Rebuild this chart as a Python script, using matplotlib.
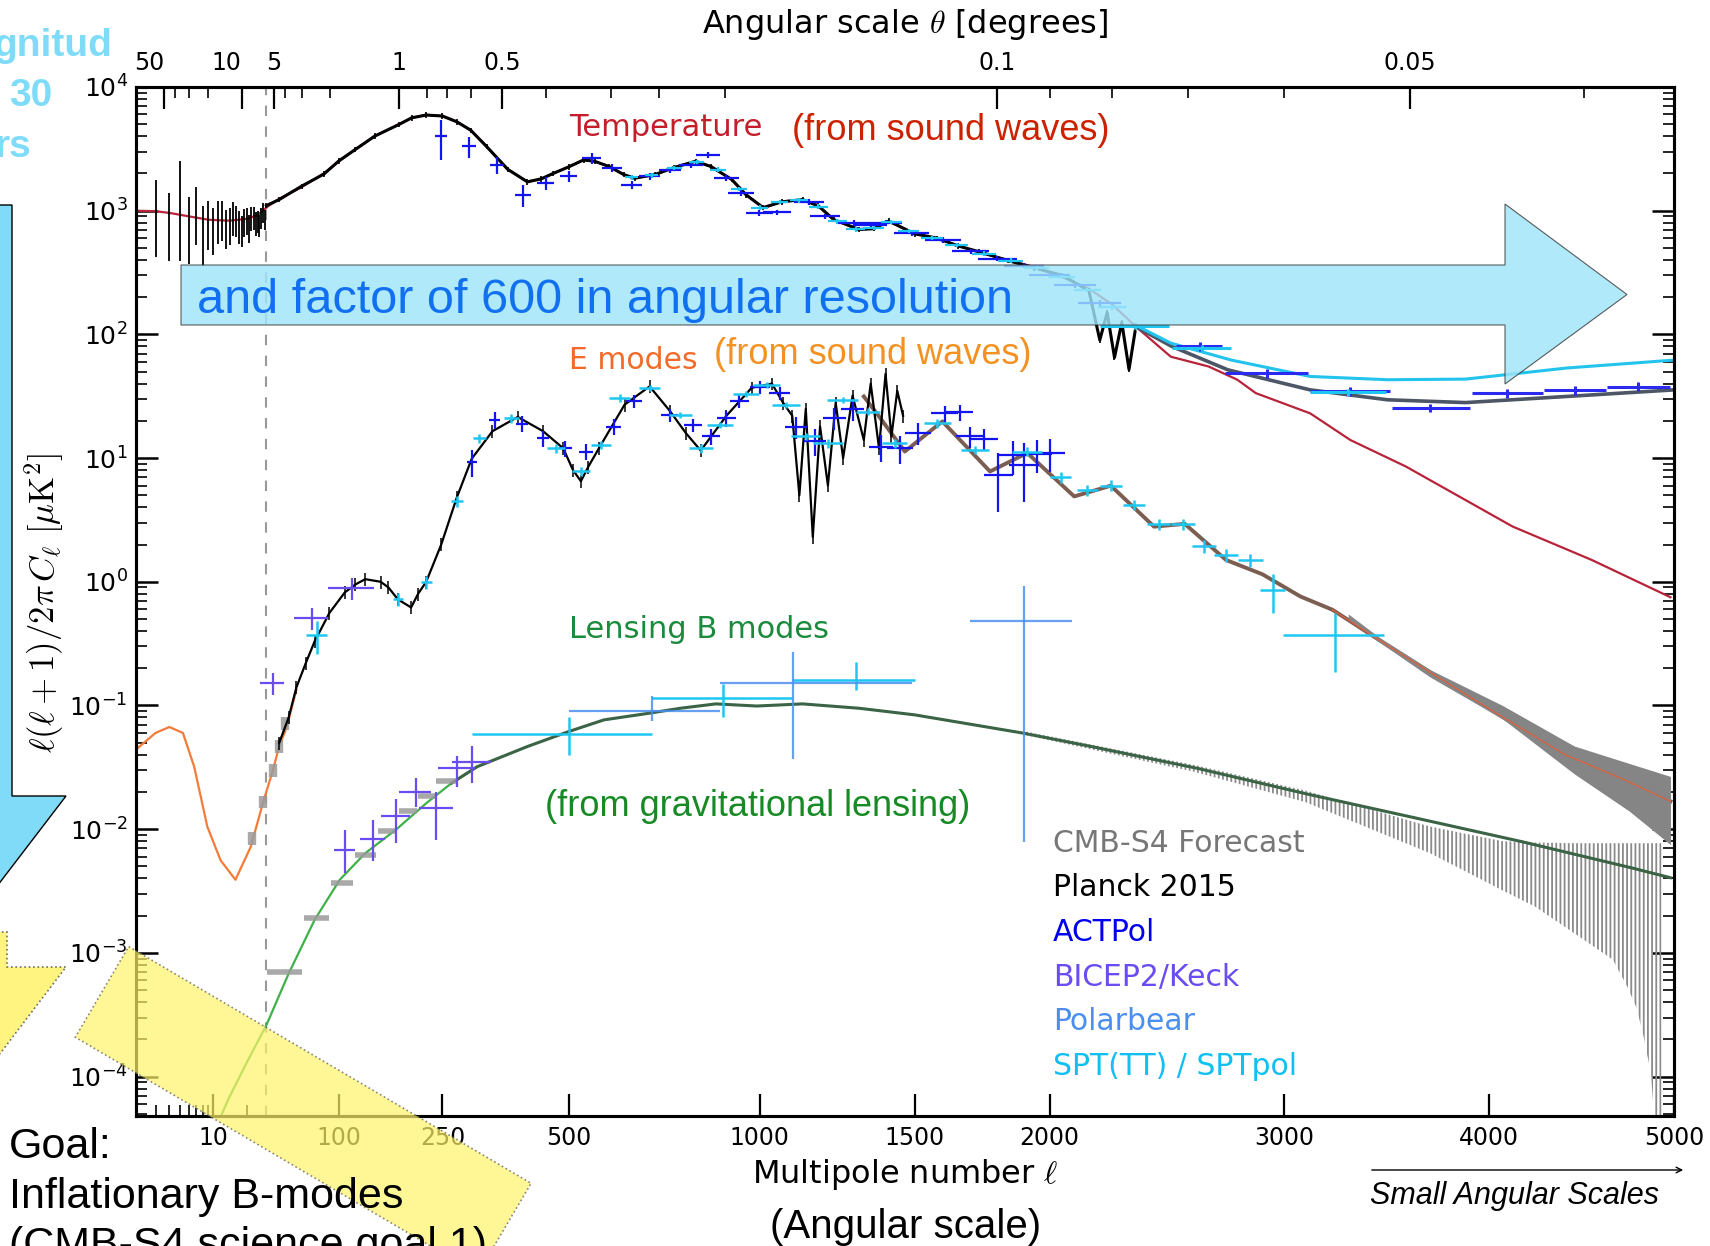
import numpy as np
import matplotlib
matplotlib.use('Agg')
import matplotlib.pyplot as plt
from matplotlib.patches import Polygon, FancyArrowPatch
from matplotlib.ticker import NullFormatter

# ---------------- data ----------------
# TT theory (lensed LCDM)
tt_ell = [2, 3, 4, 6, 9, 14, 20, 25, 31, 40, 60, 83, 100, 120, 146, 180, 200, 223, 250, 275,
          300, 330, 371, 411, 440, 466, 500, 534, 560, 595, 630, 657, 709, 760, 817, 860, 918, 960, 1010, 1067,
          1130, 1180, 1228, 1311, 1360, 1411, 1500, 1580, 1653, 1733, 1840, 1940, 2050, 2156, 2250, 2350, 2496, 2660, 2787, 2870,
          3120, 3310, 3580, 4122, 4545, 4980]
tt_val = [1000, 990, 960, 900, 845, 830, 860, 920, 1080, 1250, 1550, 2010, 2500, 3150, 3990, 5000, 5600, 5970, 5800, 5270,
          4450, 3310, 2140, 1720, 1800, 2010, 2250, 2580, 2500, 2280, 1950, 1835, 1950, 2250, 2505, 2280, 1780, 1350, 1050, 1188,
          1225, 1100, 845, 701, 720, 818, 659, 590, 527, 457, 400, 351, 290, 234, 175, 115, 66, 55, 43, 33.5,
          23, 14, 8.55, 2.8, 1.5, 0.75]

# TT total incl. foregrounds (ACT-like grey, SPT-like cyan)
tt_act_fg_ell = [2350, 2500, 2745, 3120, 3490, 3880, 4410, 5000]
tt_act_fg_val = [115, 80, 51.7, 35.6, 29.6, 28.1, 31.5, 35.6]
tt_spt_fg_ell = [2350, 2496, 2760, 3120, 3490, 3880, 4410, 5000]
tt_spt_fg_val = [118, 85, 62, 45.7, 43, 43.5, 53.5, 62]

# Planck 2015 TT, low ell
planck_lowl_ell = [3, 4, 5, 6, 7, 8, 9, 10, 11, 12, 13, 14, 15, 16, 17, 18, 19, 20, 21, 22, 23, 24, 25, 26, 27, 28, 29]
planck_lowl_val = [870, 740, 1000, 700, 950, 640, 780, 700, 820, 840, 720, 760, 880, 830, 740, 690, 800, 830, 720, 860,
                   880, 790, 820, 760, 870, 970, 850]
planck_lowl_elo = [450, 350, 610, 330, 420, 280, 300, 260, 280, 270, 230, 230, 250, 220, 200, 180, 190, 190, 170, 180,
                   180, 160, 160, 150, 160, 170, 150]
planck_lowl_ehi = [900, 650, 1530, 600, 600, 450, 420, 360, 380, 350, 300, 290, 300, 270, 250, 220, 230, 220, 200, 210,
                   200, 180, 180, 170, 175, 185, 165]

# Planck 2015 TT, high ell
planck_tt_ell = [30, 40, 60, 83, 100, 120, 146, 180, 200, 223, 250, 275, 300, 330, 371, 411, 440, 466, 500, 534,
                 560, 595, 630, 657, 709, 760, 817, 860, 918, 960, 1010, 1067, 1130, 1180, 1228, 1311, 1360, 1411, 1500, 1580,
                 1653, 1733, 1840, 1940, 2050, 2156, 2200, 2230, 2260, 2290, 2320, 2345]
planck_tt_val = [1100, 1230, 1580, 1980, 2530, 3120, 4020, 4960, 5640, 5930, 5830, 5230, 4480, 3290, 2160, 1710, 1810, 2000, 2260, 2570,
                 2510, 2270, 1960, 1830, 1960, 2240, 2510, 2270, 1790, 1340, 1060, 1180, 1230, 1090, 850, 705, 715, 825, 650, 600,
                 520, 465, 395, 345, 300, 225, 90, 150, 65, 125, 52, 105]

# ACTPol TT
act_tt_ell = [248, 297, 350, 402, 450, 500, 553, 601, 650, 695, 748, 804, 852, 903, 946, 999, 1052, 1150, 1200, 1295,
              1350, 1400, 1490, 1600, 1700, 1800, 1900, 2000, 2100, 2200]
act_tt_val = [3990, 3310, 2350, 1350, 1670, 1890, 2660, 2220, 1620, 1890, 2140, 2350, 2830, 1840, 1390, 960, 970, 1180, 900, 795,
              760, 800, 660, 580, 470, 410, 360, 300, 250, 180]
act_tt_relerr = [0.35, 0.2, 0.15, 0.2, 0.12, 0.1, 0.1, 0.08, 0.08, 0.06, 0.06, 0.06, 0.06, 0.05, 0.05, 0.05, 0.05, 0.05, 0.05, 0.05,
                 0.05, 0.05, 0.05, 0.05, 0.05, 0.05, 0.05, 0.05, 0.05, 0.05]
act_tt_hi_ell = [2620, 2920, 3310, 3700, 4095, 4455, 4800]
act_tt_hi_val = [80, 48.6, 34.6, 25.4, 33.5, 35.3, 37.9]
act_tt_hi_lo = [2518, 2730, 3120, 3510, 3910, 4290, 4630]
act_tt_hi_hi = [2720, 3110, 3500, 3900, 4280, 4620, 4980]

# SPT TT
spt_tt_ell = [650, 700, 760, 820, 880, 940, 1000, 1060, 1120, 1180, 1240, 1300, 1360, 1420, 1480, 1560, 1650, 1750, 1850, 1950,
              2050, 2150, 2250]
spt_tt_val = [1860, 1930, 2230, 2480, 2150, 1500, 1060, 1170, 1210, 1080, 820, 705, 725, 810, 690, 600, 530, 450, 395, 345,
              290, 230, 165]
spt_tt_hi_ell = [2345, 2630, 3300]
spt_tt_hi_val = [118, 78, 34]
spt_tt_hi_lo = [2200, 2500, 3120]
spt_tt_hi_hi = [2490, 2760, 3480]

# EE theory
ee_ell = [2, 3, 4, 5.3, 6.7, 8.8, 11.6, 15.8, 21.7, 28.5, 35, 40, 45, 48, 55, 73, 89, 107, 133, 154,
          179, 199, 223, 248, 275, 302, 341, 391, 444, 488, 528, 570, 632, 695, 748, 831, 903, 976, 1036, 1098,
          1162, 1259, 1327, 1378, 1466, 1598, 1772, 1913, 2097, 2245, 2425, 2556, 2737, 2900, 3075, 3225, 3447, 3709, 4010, 4400,
          4700, 4980]
ee_val = [0.044, 0.060, 0.067, 0.060, 0.032, 0.0105, 0.0056, 0.0039, 0.0072, 0.0173, 0.030, 0.047, 0.062, 0.0765, 0.134, 0.34, 0.557, 0.81, 1.04, 1.04,
          0.76, 0.71, 0.975, 2.05, 4.9, 9.7, 16.9, 21, 16.9, 11.7, 7.1, 11.7, 27.9, 37.8, 24.6, 11, 21.7, 37.8, 39, 20.4,
          13.2, 26.1, 31.5, 21.7, 11.3, 19.8, 7.8, 11, 4.9, 5.98, 2.79, 2.94, 1.50, 1.15, 0.76, 0.594, 0.34, 0.182, 0.092, 0.040,
          0.026, 0.0168]

# Planck EE
planck_ee_ell = [40, 48, 55, 64, 73, 89, 107, 120, 133, 154, 165, 179, 199, 210, 223, 248, 275, 302, 341, 391,
                 444, 488, 510, 528, 545, 570, 632, 695, 748, 790, 831, 903, 976, 1036, 1070, 1098, 1120, 1140, 1162, 1185,
                 1210, 1235, 1259, 1290, 1327, 1350, 1378, 1400, 1420, 1440, 1460]
planck_ee_val = [0.05, 0.08, 0.14, 0.22, 0.33, 0.56, 0.82, 0.95, 1.05, 1.0, 0.9, 0.72, 0.62, 0.8, 1.0, 2.0, 4.8, 9.9, 16.5, 21.5,
                 16.5, 12, 8, 6.5, 8.5, 12, 27, 38, 24, 16, 11.5, 22, 37, 40, 28, 22, 5, 25, 2.3, 18,
                 6, 28, 10, 32, 14, 40, 12, 48, 15, 35, 22]

# ACTPol EE
act_ee_ell = [302, 345, 400, 444, 493, 540, 605, 655, 748, 810, 860, 903, 940, 1000, 1060, 1110, 1170, 1230, 1290, 1385,
              1450, 1512, 1606, 1660, 1698, 1750, 1803, 1860, 1900, 1950, 2000]
act_ee_val = [9.3, 20.4, 19, 14.5, 12, 11.3, 18, 28.9, 22.4, 18.6, 15, 21, 28.9, 37.8, 33.4, 18, 13.8, 21, 25, 12.4,
              12, 15.9, 23, 23.5, 15, 14.3, 7.3, 10.5, 8.8, 10.8, 11]
act_ee_relerr = [0.25, 0.15, 0.15, 0.15, 0.15, 0.15, 0.15, 0.12, 0.12, 0.12, 0.15, 0.15, 0.12, 0.12, 0.12, 0.2, 0.25, 0.2, 0.2, 0.25,
                 0.25, 0.2, 0.15, 0.15, 0.2, 0.2, 0.5, 0.3, 0.5, 0.3, 0.3]

# SPTpol EE
spt_ee_ell = [75, 179, 223, 275, 316, 378, 472, 528, 575, 620, 695, 776, 831, 885, 960, 1020, 1080, 1140, 1210, 1259,
              1340, 1431, 1580, 1715, 1913, 2044, 2150, 2245, 2340, 2445, 2550, 2640, 2737, 2846, 2946, 3235]
spt_ee_val = [0.37, 0.72, 1.0, 4.46, 14.5, 21, 12, 7.8, 12.8, 30.6, 37, 22.4, 12, 18.6, 33, 39, 27, 15, 13.2, 29.6,
              23.8, 13.2, 19.1, 11.7, 11.3, 7.0, 5.5, 6.0, 4.2, 2.94, 2.94, 1.93, 1.65, 1.50, 0.86, 0.373]
spt_ee_relerr = [0.3, 0.12, 0.12, 0.1, 0.08, 0.08, 0.08, 0.08, 0.08, 0.08, 0.06, 0.06, 0.08, 0.06, 0.06, 0.06, 0.06, 0.06, 0.08, 0.06,
                 0.06, 0.08, 0.08, 0.08, 0.08, 0.1, 0.1, 0.1, 0.1, 0.1, 0.1, 0.12, 0.12, 0.12, 0.35, 0.5]
spt_ee_xfrac = [0.15, 0.04, 0.04, 0.04, 0.04, 0.04, 0.04, 0.04, 0.04, 0.04, 0.04, 0.04, 0.04, 0.04, 0.04, 0.04, 0.04, 0.04, 0.04, 0.04,
                0.03, 0.03, 0.03, 0.03, 0.03, 0.02, 0.02, 0.02, 0.02, 0.02, 0.02, 0.02, 0.02, 0.02, 0.02, 0.074]

# BICEP2/Keck EE
bk_ee_ell = [35, 70, 116]
bk_ee_val = [0.152, 0.51, 0.89]

# CMB-S4 forecast, low-ell EE and BB
s4_ee_ell = [22.4, 28.2, 35, 40, 45]
s4_ee_val = [0.0085, 0.0167, 0.030, 0.0466, 0.072]
s4_bb_ell = [42, 75, 104, 134, 164, 194, 225, 257]
s4_bb_val = [7.0e-4, 1.9e-3, 3.66e-3, 6.2e-3, 9.6e-3, 0.0139, 0.0184, 0.0243]
s4_bb_lo = [30.5, 62, 91, 120, 150, 180, 210, 240]
s4_bb_hi = [60, 88, 117, 148, 178, 208, 240, 275]

# CMB-S4 forecast bands at high ell
ee_band_ell = [3300, 3450, 3700, 4070, 4450, 4750, 4980]
ee_band_lo = [0.50, 0.325, 0.17, 0.078, 0.028, 0.014, 0.0075]
ee_band_hi = [0.55, 0.355, 0.195, 0.10, 0.047, 0.034, 0.0267]
bb_band_ell = [1900, 2600, 3100, 3700, 4070, 4240, 4450, 4660, 4740, 4790, 4830, 4870, 4900, 4930]
bb_band_lo = [0.058, 0.029, 0.0165, 0.0064, 0.0032, 0.00237, 0.00144, 8.8e-4, 5.3e-4, 3.6e-4, 2.1e-4, 1.07e-4, 3e-5, 3e-5]
bb_band_hi = [0.062, 0.033, 0.0205, 0.0105, 0.0080, 0.0078, 0.0077, 0.0077, 0.0077, 0.0077, 0.0077, 0.0077, 0.0077, 0.0077]

# BB lensing theory
bb_ell = [10, 14, 20, 30, 48, 73, 101, 133, 176, 223, 266, 312, 411, 500, 582, 695, 776, 873, 991, 1130,
          1311, 1500, 1893, 2156, 2612, 3102, 3620, 4175, 4767, 4980]
bb_val = [3.5e-5, 6.9e-5, 1.3e-4, 2.6e-4, 6.8e-4, 1.85e-3, 3.9e-3, 6.4e-3, 9.9e-3, 0.0162, 0.0236, 0.032, 0.0466, 0.0615, 0.0765, 0.0867, 0.095, 0.103, 0.099, 0.103,
          0.095, 0.084, 0.060, 0.047, 0.031, 0.0193, 0.0124, 0.0079, 0.00485, 0.00405]

# BB data
bk_bb_ell = [107, 143, 176, 206, 240, 275, 302]
bk_bb_val = [6.8e-3, 8.4e-3, 0.0127, 0.0201, 0.0148, 0.031, 0.035]
bk_bb_ylo = [4.4e-3, 5.5e-3, 7.8e-3, 0.0152, 0.0081, 0.0218, 0.0236]
bk_bb_yhi = [9.9e-3, 0.0118, 0.0174, 0.026, 0.020, 0.0391, 0.047]
pb_bb_ell = [700, 1100, 1900]
pb_bb_val = [0.091, 0.152, 0.48]
pb_bb_xlo = [500, 886, 1698]
pb_bb_xhi = [886, 1490, 2090]
pb_bb_ylo = [0.075, 0.037, 0.0079]
pb_bb_yhi = [0.12, 0.27, 0.93]
sptpol_bb_ell = [500, 893, 1300]
sptpol_bb_val = [0.059, 0.1145, 0.16]
sptpol_bb_xlo = [302, 700, 1098]
sptpol_bb_xhi = [700, 1098, 1500]
sptpol_bb_ylo = [0.04, 0.080, 0.133]
sptpol_bb_yhi = [0.08, 0.148, 0.225]

# axis ticks
ell_ticks = [10, 100, 250, 500, 1000, 1500, 2000, 3000, 4000, 5000]
ell_minor = [2, 3, 4, 5, 6, 7, 8, 9, 20]
theta_major = [50, 10, 5, 1, 0.5, 0.1, 0.05]
theta_minor = [40, 30, 20, 4, 3, 2, 0.8, 0.7, 0.6, 0.4, 0.3, 0.25, 0.2, 0.09, 0.08, 0.07, 0.06, 0.04]

legend_names = ['CMB-S4 Forecast', 'Planck 2015', 'ACTPol', 'BICEP2/Keck', 'Polarbear', 'SPT(TT) / SPTpol']
legend_colors = ['#777777', 'black', '#0000ee', '#6a4cf0', '#4a8ff0', '#10c0f0']

# ---------------- scale: log below ell=30, ell^0.6 above ----------------
C30 = 8.2 * 30 ** 0.6


def fwd(l):
    l = np.asarray(l, dtype=float)
    with np.errstate(all='ignore'):
        lc = np.where(l > 0, l, 1e-6)
        return np.where(lc >= 30, 8.2 * lc ** 0.6, C30 - 102 * np.log10(30 / lc))


def inv(u):
    u = np.asarray(u, dtype=float)
    with np.errstate(all='ignore'):
        return np.where(u >= C30, (np.maximum(u, 0) / 8.2) ** (1 / 0.6), 30 * 10 ** ((u - C30) / 102))


plt.rcParams['hatch.linewidth'] = 1.3

W, H = 1710, 1246
fig = plt.figure(figsize=(W / 100, H / 100), dpi=100)
ax = fig.add_axes([136 / W, 1 - 1116 / H, (1674 - 136) / W, (1116 - 87) / H])
ax.set_xscale('function', functions=(fwd, inv))
ax.set_yscale('log')
ax.set_xlim(2.05, 5000)
ax.set_ylim(4.8e-5, 1e4)


def P(x, y):
    return (x / W, 1 - y / H)


A = np.asarray
ax.axvline(30, color='#999999', ls=(0, (5, 5)), lw=1.5, zorder=1)

# theory curves
ax.plot(tt_ell, tt_val, color='#b8233a', lw=1.6, zorder=2)
ax.plot(tt_act_fg_ell, tt_act_fg_val, color='#4d5666', lw=2.6, zorder=2)
ax.plot(tt_spt_fg_ell, tt_spt_fg_val, color='#22c4ee', lw=2.2, zorder=2)

ee_e, ee_v = A(ee_ell), A(ee_val)
m_hi = ee_e >= 1300
ax.plot(ee_e[m_hi], ee_v[m_hi], color='#7c5d52', lw=2.8, zorder=2)
ax.fill_between(ee_band_ell, ee_band_lo, ee_band_hi, color='#858585', lw=0, zorder=2.5)
m_lo = ee_e <= 60
ax.plot(ee_e[m_lo], ee_v[m_lo], color='#f47b3a', lw=1.6, zorder=3)
m_top = ee_e >= 3200
ax.plot(ee_e[m_top], ee_v[m_top], color='#e0603a', lw=0.9, zorder=3)

bb_e, bb_v = A(bb_ell), A(bb_val)
ax.fill_between(bb_band_ell, bb_band_lo, bb_band_hi, facecolor='none', edgecolor='#8a8a8a',
                hatch='||||', lw=0, zorder=2)
ax.plot(bb_e[bb_e <= 312], bb_v[bb_e <= 312], color='#3fb04a', lw=1.6, zorder=3)
ax.plot(bb_e[bb_e >= 266], bb_v[bb_e >= 266], color='#3a6445', lw=2.2, zorder=3)

# CMB-S4 low-ell forecast
ax.errorbar(s4_ee_ell, s4_ee_val, yerr=0.12 * A(s4_ee_val), fmt='none', ecolor='#9a9a9a',
            elinewidth=6, alpha=0.85, zorder=3)
ax.errorbar(s4_bb_ell, s4_bb_val, xerr=[A(s4_bb_ell) - A(s4_bb_lo), A(s4_bb_hi) - A(s4_bb_ell)],
            fmt='none', ecolor='#9a9a9a', elinewidth=4, alpha=0.85, zorder=3)

# Planck
ax.errorbar(planck_lowl_ell, planck_lowl_val, yerr=[planck_lowl_elo, planck_lowl_ehi], fmt='none',
            ecolor='black', elinewidth=1.3, zorder=4)
ax.errorbar(planck_tt_ell, planck_tt_val, yerr=0.05 * A(planck_tt_val), color='black', lw=2.2,
            elinewidth=1.2, capsize=0, zorder=4)
ax.errorbar(planck_ee_ell, planck_ee_val, yerr=0.12 * A(planck_ee_val), color='black', lw=1.6,
            elinewidth=1.1, capsize=0, zorder=4)

# ACTPol
ax.errorbar(act_tt_ell, act_tt_val, xerr=0.04 * A(act_tt_ell), yerr=A(act_tt_relerr) * A(act_tt_val),
            fmt='none', ecolor='#1414f0', elinewidth=1.6, zorder=5)
ax.errorbar(act_tt_hi_ell, act_tt_hi_val,
            xerr=[A(act_tt_hi_ell) - A(act_tt_hi_lo), A(act_tt_hi_hi) - A(act_tt_hi_ell)],
            yerr=0.08 * A(act_tt_hi_val), fmt='none', ecolor='#2a2af0', elinewidth=2.2, zorder=5)
ax.errorbar(act_ee_ell, act_ee_val, xerr=0.03 * A(act_ee_ell), yerr=A(act_ee_relerr) * A(act_ee_val),
            fmt='none', ecolor='#1414f0', elinewidth=1.6, zorder=5)

# SPT
ax.errorbar(spt_tt_ell, spt_tt_val, xerr=0.025 * A(spt_tt_ell), yerr=0.04 * A(spt_tt_val),
            fmt='none', ecolor='#1ec6f2', elinewidth=1.6, zorder=5)
ax.errorbar(spt_tt_hi_ell, spt_tt_hi_val,
            xerr=[A(spt_tt_hi_ell) - A(spt_tt_hi_lo), A(spt_tt_hi_hi) - A(spt_tt_hi_ell)],
            yerr=0.06 * A(spt_tt_hi_val), fmt='none', ecolor='#1ec6f2', elinewidth=2.2, zorder=5)
ax.errorbar(spt_ee_ell, spt_ee_val, xerr=A(spt_ee_xfrac) * A(spt_ee_ell), yerr=A(spt_ee_relerr) * A(spt_ee_val),
            fmt='none', ecolor='#1ec6f2', elinewidth=1.8, zorder=5)
ax.errorbar(sptpol_bb_ell, sptpol_bb_val,
            xerr=[A(sptpol_bb_ell) - A(sptpol_bb_xlo), A(sptpol_bb_xhi) - A(sptpol_bb_ell)],
            yerr=[A(sptpol_bb_val) - A(sptpol_bb_ylo), A(sptpol_bb_yhi) - A(sptpol_bb_val)],
            fmt='none', ecolor='#1ec6f2', elinewidth=1.8, zorder=5)

# BICEP2/Keck
ax.errorbar(bk_ee_ell, bk_ee_val, xerr=0.25 * A(bk_ee_ell), yerr=0.2 * A(bk_ee_val),
            fmt='none', ecolor='#6a4cf0', elinewidth=1.6, zorder=5)
ax.errorbar(bk_bb_ell, bk_bb_val, xerr=0.12 * A(bk_bb_ell),
            yerr=[A(bk_bb_val) - A(bk_bb_ylo), A(bk_bb_yhi) - A(bk_bb_val)],
            fmt='none', ecolor='#6a4cf0', elinewidth=1.6, zorder=5)

# Polarbear
ax.errorbar(pb_bb_ell, pb_bb_val,
            xerr=[A(pb_bb_ell) - A(pb_bb_xlo), A(pb_bb_xhi) - A(pb_bb_ell)],
            yerr=[A(pb_bb_val) - A(pb_bb_ylo), A(pb_bb_yhi) - A(pb_bb_val)],
            fmt='none', ecolor='#4a8ff0', elinewidth=1.6, alpha=0.85, zorder=5)

# ---------------- axes cosmetics ----------------
for s in ax.spines.values():
    s.set_linewidth(2.2)
ax.set_xticks(ell_ticks, labels=[str(t) for t in ell_ticks])
ax.set_xticks(ell_minor, minor=True)
ax.set_yticks([10.0 ** k for k in range(-4, 5)], labels=['$10^{%d}$' % k for k in range(-4, 5)])
ax.yaxis.set_minor_formatter(NullFormatter())
ax.tick_params(axis='both', which='both', direction='in', top=False, right=True)
ax.tick_params(axis='x', which='major', length=16, width=1.6, labelsize=17, pad=7)
ax.tick_params(axis='x', which='minor', length=8, width=1.2)
ax.tick_params(axis='y', which='major', length=16, width=1.8, labelsize=18, pad=6)
ax.tick_params(axis='y', which='minor', length=8, width=1.2)

ax2 = ax.twiny()
ax2.set_xscale('function', functions=(fwd, inv))
ax2.set_xlim(ax.get_xlim())
ax2.set_xticks([180.0 / t for t in theta_major], labels=[('%g' % t) for t in theta_major])
ax2.set_xticks([180.0 / t for t in theta_minor], minor=True)
ax2.tick_params(axis='x', which='major', direction='in', length=16, width=1.6, labelsize=17, pad=9)
ax2.tick_params(axis='x', which='minor', direction='in', length=8, width=1.2)
for lab in ax2.get_xticklabels()[:2]:
    lab.set_horizontalalignment('right')
for s in ax2.spines.values():
    s.set_linewidth(2.2)

# ---------------- labels inside / around the plot ----------------
fig.text(*P(905, 24), r'Angular scale $\theta$ [degrees]', ha='center', va='center', fontsize=23,
         math_fontfamily='cm')
fig.text(*P(905, 1175), r'Multipole number $\ell$', ha='center', va='center', fontsize=23,
         math_fontfamily='cm')
fig.text(*P(44, 603), r'$\ell(\ell+1)/2\pi\, C_\ell\ [\mu{\rm K}^2]$', rotation=90, ha='center',
         va='center', fontsize=25, math_fontfamily='cm')

fig.text(*P(569, 127), 'Temperature', color='#c41e2a', fontsize=22, va='center')
fig.text(*P(792, 130), '(from sound waves)', color='#cc2200', fontsize=26, va='center',
         family='Liberation Sans')
fig.text(*P(569, 360), 'E modes', color='#f26b2a', fontsize=21.5, va='center')
fig.text(*P(714, 355), '(from sound waves)', color='#f39222', fontsize=26, va='center',
         family='Liberation Sans')
fig.text(*P(569, 630), 'Lensing B modes', color='#1a8a3c', fontsize=22, va='center')
fig.text(*P(545, 807), '(from gravitational lensing)', color='#178a25', fontsize=26, va='center',
         family='Liberation Sans')

for i, (name, col) in enumerate(zip(legend_names, legend_colors)):
    fig.text(*P(1053, 843 + 44.7 * i), name, color=col, fontsize=21.5, va='center')

# ---------------- slide overlays ----------------
big_arrow = [(181, 265), (1505, 265), (1505, 204), (1627, 294.5), (1505, 384), (1505, 325), (181, 325)]
fig.add_artist(Polygon([P(*p) for p in big_arrow], closed=True, transform=fig.transFigure,
                       facecolor='#9fe5fa', edgecolor='#3a3a3a', lw=0.8, alpha=0.82, zorder=20))
fig.text(*P(197, 313), 'and factor of 600 in angular resolution', color='#1170f0', fontsize=35,
         va='baseline', family='Liberation Sans', zorder=21)

left_arrow = [(-140, 205), (12, 205), (12, 796), (66, 796), (-64, 966), (-194, 796), (-140, 796)]
fig.add_artist(Polygon([P(*p) for p in left_arrow], closed=True, transform=fig.transFigure,
                       facecolor='#7fdbf8', edgecolor='black', lw=1.0, zorder=20))

small_yellow = [(-60, 932), (7, 932), (7, 967), (66, 967), (-30, 1093), (-60, 1093)]
fig.add_artist(Polygon([P(*p) for p in small_yellow], closed=True, transform=fig.transFigure,
                       facecolor='#fff36a', edgecolor='#555555', ls=':', lw=1.2, alpha=0.85, zorder=20))
big_yellow = [(128.7, 946.6), (531.1, 1183.3), (477.7, 1273.8), (75.3, 1037.2)]
fig.add_artist(Polygon([P(*p) for p in big_yellow], closed=True, transform=fig.transFigure,
                       facecolor='#fff36a', edgecolor='#555555', ls=':', lw=1.2, alpha=0.7, zorder=20))

fig.text(*P(112, 46), 'gnitud', color='#7fdcf8', fontsize=28, fontweight='bold', ha='right',
         va='center', family='Liberation Sans', zorder=21)
fig.text(*P(52, 96), '30', color='#7fdcf8', fontsize=28, fontweight='bold', ha='right',
         va='center', family='Liberation Sans', zorder=21)
fig.text(*P(31, 147), 'rs', color='#7fdcf8', fontsize=28, fontweight='bold', ha='right',
         va='center', family='Liberation Sans', zorder=21)

fig.text(*P(9, 1147), 'Goal:', fontsize=31, va='center', family='Liberation Sans', zorder=22)
fig.text(*P(9, 1197), 'Inflationary B-modes', fontsize=31, va='center', family='Liberation Sans', zorder=22)
fig.text(*P(9, 1226), '(CMB-S4 science goal 1)', fontsize=31, va='top', family='Liberation Sans', zorder=22)
fig.text(*P(906, 1227), '(Angular scale)', fontsize=29, ha='center', va='center', family='Liberation Sans')

fig.add_artist(FancyArrowPatch(P(1369, 1170), P(1686, 1170), transform=fig.transFigure,
                               arrowstyle='->', mutation_scale=10, lw=1.0, color='black'))
fig.text(*P(1370, 1196), 'Small Angular Scales', fontsize=22, style='italic', va='center',
         family='Liberation Sans')

fig.savefig('out.png', dpi=100)
